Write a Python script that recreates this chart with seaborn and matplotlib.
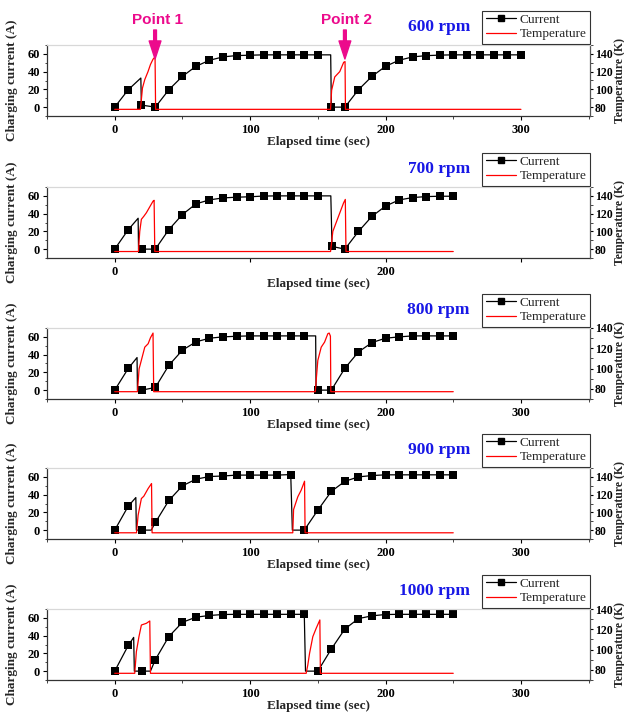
import numpy as np
import pandas as pd
import matplotlib
matplotlib.use("Agg")
import matplotlib.pyplot as plt
from matplotlib.lines import Line2D
from matplotlib.ticker import MultipleLocator, FixedLocator
import seaborn as sns

# ---------------- data ----------------
speeds = ["600 rpm", "700 rpm", "800 rpm", "900 rpm", "1000 rpm"]

# 600 rpm
cur_t_600 = [0, 10, 19.3, 19.7, 30, 40, 50, 60, 70, 80, 90, 100, 110, 120, 130, 140, 150, 159.5,
             160, 170, 180, 190, 200, 210, 220, 230, 240, 250, 260, 270, 280, 290, 300]
cur_v_600 = [0, 19.6, 32.8, 2.3, 0, 19.6, 34.7, 46, 52.8, 56.6, 58.1, 58.5, 58.9, 58.9, 58.9, 58.9, 58.9, 58.9,
             0, 0, 19.6, 34.7, 46, 52.8, 56.6, 58, 58.6, 58.9, 58.9, 58.9, 58.9, 58.9, 58.9]
cur_nomark_600 = [19.3, 159.5]
temp_t_600 = [0, 19.0, 20.5, 22.2, 24.6, 26.4, 28.3, 29.8, 30.2, 159.4, 160.2, 162.5, 166.2, 169.1, 170.1, 170.4, 300]
temp_v_600 = [77.5, 77.5, 101.5, 111, 120, 128, 134, 136.6, 77.5, 77.5, 99, 114, 120, 130.5, 131.3, 77.5, 77.5]

# 700 rpm
cur_t_700 = [0, 10, 17.3, 17.6, 20, 30, 40, 50, 60, 70, 80, 90, 100, 110, 120, 130, 140, 150,
             159.6, 160.5, 170, 180, 190, 200, 210, 220, 230, 240, 250]
cur_v_700 = [0, 21.9, 34.8, 0, 0, 0, 22, 39, 51, 55.5, 57.7, 58.5, 59, 59.8, 60, 60, 60, 60,
             60, 3, 0, 19.9, 37, 48.5, 55.4, 58.1, 59.2, 59.6, 59.6]
cur_nomark_700 = [17.3, 17.6, 159.6]
temp_t_700 = [0, 17.5, 18.5, 19.7, 21.5, 23.4, 26.4, 28.3, 29.1, 29.6, 159.4, 161.1, 164.8, 169.0, 170.3, 170.8, 250]
temp_v_700 = [77.3, 77.3, 100, 113.6, 117, 121, 129, 134, 135, 77.3, 77.3, 100, 115, 132, 136, 77.3, 77.3]

# 800 rpm
cur_t_800 = [0, 10, 16.5, 16.8, 20, 30, 40, 50, 60, 70, 80, 90, 100, 110, 120, 130, 140,
             148.4, 148.7, 150, 160, 170, 180, 190, 200, 210, 220, 230, 240, 250]
cur_v_800 = [0, 24.4, 36.7, 0, 0, 3, 28, 45, 54.4, 58.5, 60, 60.7, 61.1, 61.1, 61.1, 61.1, 61.1,
             61.1, 0, 0, 0, 24.7, 43, 53.6, 58.5, 60, 61.1, 61.1, 61.1, 61.1]
cur_nomark_800 = [16.5, 16.8, 148.4, 148.7]
temp_t_800 = [0, 16.8, 18.0, 19.0, 22.2, 24.7, 26.4, 28.3, 28.8, 148.1, 150.0, 152.5, 155.0, 157.4, 158.4, 159.3, 159.6, 250]
temp_v_800 = [77.2, 77.2, 99.7, 104.7, 121.1, 124.5, 130.4, 135, 77.2, 77.2, 108, 121.1, 126.1, 134.4, 135, 132, 77.2, 77.2]

# 900 rpm
cur_t_900 = [0, 10, 15.6, 16.0, 20, 27, 30, 40, 50, 60, 70, 80, 90, 100, 110, 120, 130,
             131.2, 140, 150, 160, 170, 180, 190, 200, 210, 220, 230, 240, 250]
cur_v_900 = [0, 27, 36.7, 0, 0, 0, 8.6, 33.4, 49.9, 57.4, 60.4, 61, 62, 62, 62, 62, 62.6,
             0, 0, 22.5, 43.7, 55, 60, 61.5, 62.3, 62.3, 62.3, 62.3, 62.3, 62.3]
cur_nomark_900 = [15.6, 16.0, 27, 131.2]
temp_t_900 = [0, 16.1, 17.3, 19.7, 21.5, 24.7, 27.2, 27.6, 131.5, 132.1, 135.2, 137.7, 140.2, 140.6, 250]
temp_v_900 = [77, 77, 96.9, 115.6, 118.2, 126.9, 132.5, 77, 77, 103.2, 117.5, 125, 135.1, 77, 77]

# 1000 rpm
cur_t_1000 = [0, 10, 14.0, 14.5, 20, 26.4, 30, 40, 50, 60, 70, 80, 90, 100, 110, 120, 130, 140,
              140.9, 150, 160, 170, 180, 190, 200, 210, 220, 230, 240, 250]
cur_v_1000 = [0, 28.9, 38, 0, 0, 0, 12.9, 39, 55, 60.8, 62.7, 63.8, 64, 64, 64, 64, 64, 64,
              0, 0, 25, 47.5, 59.2, 62.3, 63.8, 64, 64, 64, 64, 64]
cur_nomark_1000 = [14.0, 14.5, 26.4, 140.9]
temp_t_1000 = [0, 14.8, 16.0, 17.9, 19.7, 23.4, 25.9, 26.4, 141.4, 142.6, 143.9, 146.3, 148.8, 151.5, 151.9, 250]
temp_v_1000 = [76.6, 76.6, 97.9, 112.7, 124.2, 125.9, 128.2, 76.6, 76.6, 84.8, 96.3, 112.7, 121, 129.2, 76.6, 76.6]

temp_ylims = [(70, 150), (70, 150), (70, 140), (70, 150), (70, 140)]
xtick_labels = [["0", "100", "200", "300"], ["0", "", "200", ""],
                ["0", "100", "200", "300"], ["0", "100", "200", "300"], ["0", "100", "200", "300"]]
xticks = [0, 100, 200, 300]
cur_yticks = [0, 20, 40, 60]
temp_yticks = [80, 100, 120, 140]
point_labels = ["Point 1", "Point 2"]
point_times = [29.8, 170.0]

panels = [
    (cur_t_600, cur_v_600, cur_nomark_600, temp_t_600, temp_v_600),
    (cur_t_700, cur_v_700, cur_nomark_700, temp_t_700, temp_v_700),
    (cur_t_800, cur_v_800, cur_nomark_800, temp_t_800, temp_v_800),
    (cur_t_900, cur_v_900, cur_nomark_900, temp_t_900, temp_v_900),
    (cur_t_1000, cur_v_1000, cur_nomark_1000, temp_t_1000, temp_v_1000),
]

# ---------------- style ----------------
sns.set_style("ticks")
plt.rcParams["font.family"] = ["Liberation Serif", "DejaVu Serif"]
plt.rcParams["font.weight"] = "bold"
plt.rcParams["axes.labelweight"] = "bold"

W, H = 624, 713
fig = plt.figure(figsize=(W / 100, H / 100), dpi=100)
ax_l, ax_r = 47, 590
tops = [45, 187, 328, 468, 609]
ax_h = 71
dark = "#333333"
blue = "#1818e6"
magenta = "#ec0a8c"

for i, (ct, cv, nomark, tt, tv) in enumerate(panels):
    top = tops[i]
    ax = fig.add_axes([ax_l / W, 1 - (top + ax_h) / H, (ax_r - ax_l) / W, ax_h / H])
    ax2 = ax.twinx()

    cdf = pd.DataFrame({"t": ct, "I": cv})
    mdf = cdf[~cdf["t"].isin(nomark)]
    tdf = pd.DataFrame({"t": tt, "T": tv})

    sns.lineplot(data=cdf, x="t", y="I", ax=ax, color="black", lw=0.9,
                 estimator=None, sort=False, legend=False)
    sns.scatterplot(data=mdf, x="t", y="I", ax=ax, marker="s", s=28, color="black",
                    edgecolor="black", linewidth=0, legend=False, zorder=3)
    sns.lineplot(data=tdf, x="t", y="T", ax=ax2, color="#ff0000", lw=0.9,
                 estimator=None, sort=False, legend=False)

    ax.set_xlim(-50, 351)
    ax.set_ylim(-10, 70)
    ax2.set_ylim(*temp_ylims[i])
    ax.set_xticks(xticks)
    ax.set_xticklabels(xtick_labels[i])
    if i != 1:
        ax.xaxis.set_minor_locator(FixedLocator([-50, 50, 150, 250, 350]))
    ax.set_yticks(cur_yticks)
    ax.yaxis.set_minor_locator(MultipleLocator(10))
    ax2.set_yticks(temp_yticks)
    ax2.yaxis.set_minor_locator(MultipleLocator(10))

    for a in (ax, ax2):
        a.tick_params(axis="both", which="major", direction="out", length=3, width=0.8,
                      labelsize=9, pad=2, colors="black")
        a.tick_params(axis="both", which="minor", direction="out", length=1.8, width=0.6)
    ax.tick_params(axis="x", which="major", pad=2.5)
    ax2.tick_params(axis="y", which="major", pad=1, length=2.5, labelsize=8.5)

    ax.spines["top"].set_visible(False)
    ax.spines["right"].set_visible(False)
    ax.spines["left"].set_color(dark)
    ax.spines["bottom"].set_color(dark)
    ax2.spines["left"].set_visible(False)
    ax2.spines["bottom"].set_visible(False)
    ax2.spines["top"].set_color("#d8d8d8")
    ax2.spines["right"].set_color("#555555")
    for s in ax.spines.values():
        s.set_linewidth(0.9)
    for s in ax2.spines.values():
        s.set_linewidth(0.9)

    ax.set_xlabel("Elapsed time (sec)", fontsize=9.5, fontweight="bold")
    ax.xaxis.set_label_coords(0.5, -0.28)
    ax.set_ylabel("Charging current (A)", fontsize=9.5, fontweight="bold")
    ax.yaxis.set_label_coords(-0.0525, 0.5)
    ax2.set_ylabel("Temperature (K)", fontsize=8.5, fontweight="bold")
    ax2.yaxis.set_label_coords((613.5 - ax_l) / (ax_r - ax_l), 0.5)

    handles = [Line2D([0], [0], color="black", lw=0.9, marker="s", ms=5),
               Line2D([0], [0], color="#ff0000", lw=0.9)]
    leg = ax2.legend(handles, ["Current", "Temperature"], loc="lower right",
                     bbox_to_anchor=(1.0, 1.02), borderaxespad=0, frameon=True,
                     fancybox=False, framealpha=1, edgecolor=dark,
                     prop={"family": "Liberation Serif", "weight": "normal", "size": 9.5},
                     handlelength=2.3, handletextpad=0.3, borderpad=0.25, labelspacing=0.15)
    leg.get_frame().set_linewidth(0.8)

    ax.text(0.779, 1.254, speeds[i], transform=ax.transAxes, ha="right", va="center",
            color=blue, fontsize=12.5, fontweight="bold", family="Liberation Serif")

    if i == 0:
        ylo, yhi = temp_ylims[0]
        pxu = ax_h / (yhi - ylo)
        tip = yhi - (59 - top) / pxu
        tail = yhi + (top - 30) / pxu
        txt_y = yhi + (top - 20) / pxu
        for lab, pt in zip(point_labels, point_times):
            ax2.annotate("", xy=(pt, tip), xytext=(pt, tail), annotation_clip=False,
                         arrowprops=dict(facecolor=magenta, edgecolor=magenta, width=2.0,
                                         headwidth=8.5, headlength=13, shrink=0))
            ax2.text(pt + 1.5, txt_y, lab, ha="center", va="center", color=magenta,
                     fontsize=11, fontweight="bold", family="Liberation Sans", clip_on=False)

fig.savefig("out.png", dpi=100)
